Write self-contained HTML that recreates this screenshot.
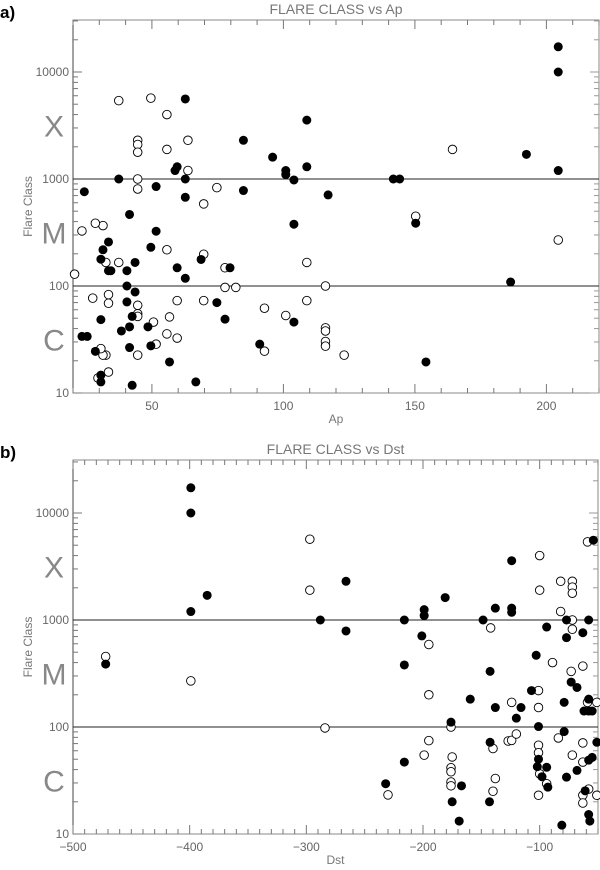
<!DOCTYPE html>
<html><head><meta charset="utf-8"><style>
body{margin:0;background:#fff;width:600px;height:870px;overflow:hidden;font-family:"Liberation Sans",sans-serif}
svg{position:absolute;left:0;top:0}
</style></head><body>
<svg id="chart" width="600" height="870" viewBox="0 0 600 870"></svg>
<script>
// Panel a: Ap vs flare class
const apFilledX=[204.5,204.5,204.5,192.4,186.4,154.2,150.3,144.2,141.8,117,108.9,108.9,104,104,104,100.9,100.9,95.9,91,84.8,84.8,79.7,77.8,74.7,68.7,66.7,62.7,62.7,62.7,62.7,59.6,58.8,59.6,56.7,51.6,51.6,49.6,49.6,48.5,43.6,43.6,42.5,41.5,41.5,41.5,42.5,40.5,40.5,40.5,38.4,37.4,34.4,33.5,33.5,31.4,30.6,30.6,30.6,30.6,28.5,25.4,23.4,24.3];
const apFilledY=[17200,10000,1200,1700,109,19.5,386,1000,1000,710,3550,1300,980,378,46,1200,1100,1600,28.6,2300,780,148,49,70,177,12.7,5600,1000,675,118,1300,1200,148,19.5,850,325,230,27.6,41.5,166,88,52,466,41.5,26.6,11.8,100,139,71,38,1000,139,139,258,218,178,48.5,14.7,12.7,24.5,33.8,33.8,760];
const apOpenX=[204.5,164.3,150.3,116,116,116,116,116,123.1,108.9,108.9,100.9,92.8,92.8,81.9,77.8,77.8,69.7,69.7,69.7,74.7,63.7,63.7,59.6,59.6,56.7,55.7,55.7,55.7,55.7,51.6,50.6,49.6,44.6,44.6,44.6,44.6,44.6,44.6,44.6,44.6,44.6,37.4,37.4,33.5,33.5,33.5,32.5,32.5,31.4,30.6,29.5,31.4,28.5,27.5,23.4,20.6];
const apOpenY=[269,1890,449,100,40.6,38,30.3,27.4,22.6,166,73,53,62,24.6,97,97,148,198,73,585,830,2300,1200,73,32.6,51.4,4000,1890,218,35.7,28.6,46,5700,2300,2100,1780,1000,807,66,55,52,22.6,5400,166,83,69,15.7,166,22.6,22.6,26,13.8,367,386,77,327,129];
// Panel b: Dst vs flare class
const dstFilledX=[-399,-399,-399,-385,-472,-288,-266,-266,-216,-216,-216,-232,-201,-199,-199,-181,-176,-175,-169,-167,-159.5,-148.5,-142.5,-142.5,-143,-138,-138,-124,-124,-124,-120,-116,-101,-101,-102,-98,-107,-103,-94,-94,-93,-81,-79,-79,-77,-77,-77,-73,-68,-68,-63,-62,-58,-55,-61,-58,-58,-58,-55,-58,-57,-54,-51];
const dstFilledY=[17200,10000,1200,1700,387,1000,2300,790,1000,380,47,29.5,710,1250,1100,1620,111,20,13.2,28.2,182,1000,331,72,20,1290,152,3580,1290,1180,121,152,101,50,42.6,34.3,219,468,860,42,27.4,12.1,90.6,170,1000,684,34,263,234,39.3,760,141,141,141,25.3,1000,182,49,52,15.2,13.2,5570,72];
const dstOpenX=[-472,-399,-297,-297,-284,-230,-199,-195,-195,-195,-176,-175,-176,-176,-176,-176,-142,-140,-140,-138,-124,-127,-124,-120,-100,-100,-101,-101,-101,-101,-101,-100,-89,-94,-84,-82,-82,-72,-72,-72,-72,-72,-73,-72,-63,-63,-63,-63,-63,-59,-59,-58,-51,-51];
const dstOpenY=[456,270,5690,1900,98,23.2,54.6,590,200,74.6,100,52.5,41.6,38.2,30.6,28.2,843,63,25.1,33,170,74,75,86,4000,1900,219,152,67.5,57.5,23,36.5,400,29.5,79,2300,1200,2300,2030,1780,1000,820,331,54.6,371,71,47,23,19.5,5370,170,26.3,170,23];
const apTicks=[50,100,150,200];
const dstTicks=[-500,-400,-300,-200,-100];
const yTicks=[10,100,1000,10000];

const svg=document.getElementById('chart');
const NS='http://www.w3.org/2000/svg';
function mk(tag,attrs,parent){const e=document.createElementNS(NS,tag);for(const k in attrs)e.setAttribute(k,attrs[k]);(parent||svg).appendChild(e);return e;}

function panel(o){
  const g=mk('g',{});
  
  
  const L=73,R=o.right,T=o.top,B=o.bottom,dec=107;
  const xs=v=>L+(v-o.xmin)/(o.xmax-o.xmin)*(R-L);
  const ys=v=>B-(Math.log10(v)-1)*dec;
  // frame
  const fr=mk('rect',{x:L,y:T,width:R-L,height:B-T,fill:'none',stroke:'#888','stroke-width':1},g);
  
  
  mk('line',{x1:L,y1:T,x2:L,y2:B,stroke:'#444'},g);
  // minor x ticks
  for(let v=o.xmin;v<=o.xmax+0.01;v+=o.minor){
    const x=xs(v);const major=Math.abs(v%o.major)<0.01;const len=major?9:5;
    mk('line',{x1:x,y1:B,x2:x,y2:B-len,stroke:'#777'},g);
    mk('line',{x1:x,y1:T,x2:x,y2:T+len,stroke:'#777'},g);
  }
  // y ticks
  for(let d=1;d<=5;d++){for(let m=1;m<10;m++){const v=m*Math.pow(10,d);const y=ys(v);if(y<T||y>B)continue;
    const len=m===1?9:5;
    mk('line',{x1:L,y1:y,x2:L+len,y2:y,stroke:'#777'},g);
    mk('line',{x1:R,y1:y,x2:R-len,y2:y,stroke:'#999'},g);}}
  yTicks.forEach(v=>{const t=mk('text',{x:L-4,y:ys(v)+4,'text-anchor':'end','font-size':12,fill:'#666'},g);t.textContent=v;
    
    });
  o.ticks.forEach(v=>{const t=mk('text',{x:xs(v),y:B+17,'text-anchor':'middle','font-size':12,fill:'#666'},g);t.textContent=(v<0?'\u2212'+(-v):v);
    
    });
  // class lines
  [100,1000].forEach(v=>{const l=mk('line',{x1:L,y1:ys(v),x2:R,y2:ys(v),stroke:'#222','stroke-width':1},g);
    
    });
  [['X',3.5],['M',2.5],['C',1.5]].forEach(([s,lv])=>{const t=mk('text',{x:54,y:ys(Math.pow(10,lv))+11,'text-anchor':'middle','font-size':30,fill:'#888','font-weight':'normal',transform:'scale(1,1)'},g);t.textContent=s;
    
    });
  const yt=mk('text',{x:0,y:0,'text-anchor':'middle','font-size':12,fill:'#777',transform:`translate(32,${(T+B)/2}) rotate(-90)`},g);yt.textContent='Flare Class';
  
  
  const xt=mk('text',{x:(L+R)/2,y:B+30,'text-anchor':'middle','font-size':12,fill:'#777'},g);xt.textContent=o.xlabel;
  
  
  const tt=mk('text',{x:(L+R)/2,y:T-6,'text-anchor':'middle','font-size':14,fill:'#777'},g);tt.textContent=o.title;
  
  
  const pl=mk('text',{x:0,y:T-2,'font-size':17,'font-weight':'bold',fill:'#000'},g);pl.textContent=o.panel;
  
  
  o.ox.forEach((v,i)=>{const c=mk('circle',{cx:xs(v),cy:ys(o.oy[i]),r:4.3,fill:'#fff',stroke:'#000','stroke-width':0.9},g);
    
    });
  o.fx.forEach((v,i)=>{const c=mk('circle',{cx:xs(v),cy:ys(o.fy[i]),r:4.5,fill:'#000'},g);
    
    });
}
panel({name:'panel-a-ap',panel:'a)',title:'FLARE CLASS vs Ap',xlabel:'Ap',xmin:20,xmax:220,minor:10,major:50,ticks:apTicks,right:599,top:20,bottom:393,fx:apFilledX,fy:apFilledY,ox:apOpenX,oy:apOpenY});
panel({name:'panel-b-dst',panel:'b)',title:'FLARE CLASS vs Dst',xlabel:'Dst',xmin:-500,xmax:-50,minor:10,major:100,ticks:dstTicks,right:598,top:460,bottom:834,fx:dstFilledX,fy:dstFilledY,ox:dstOpenX,oy:dstOpenY});
</script>
</body></html>
